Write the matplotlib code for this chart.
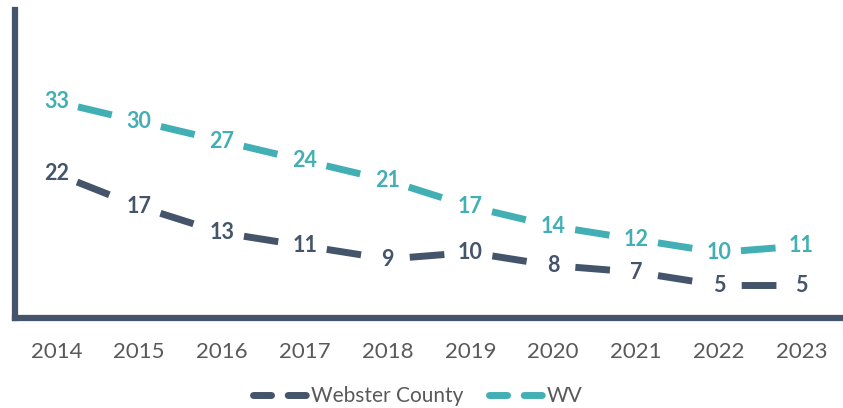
import matplotlib
matplotlib.use("Agg")
import matplotlib.pyplot as plt
from matplotlib.lines import Line2D

years = ["2014", "2015", "2016", "2017", "2018", "2019", "2020", "2021", "2022", "2023"]
webster = [22, 17, 13, 11, 9, 10, 8, 7, 5, 5]
wv = [33, 30, 27, 24, 21, 17, 14, 12, 10, 11]

dark = "#44546A"
teal = "#41AFB4"
plt.rcParams["font.family"] = ["Lato", "DejaVu Sans"]
plt.rcParams["lines.scale_dashes"] = False

fig = plt.figure(figsize=(8.43, 4.08), dpi=100)
ax = fig.add_axes([15 / 843, 1 - 318 / 408, 1 - 15 / 843, 308 / 408])

x = list(range(len(years)))
# each segment gets its own dash so the gap sits around the data label
seg_style = (81, (25, 72))
for series, color in [(webster, dark), (wv, teal)]:
    for i in range(len(x) - 1):
        ax.plot(x[i:i + 2], series[i:i + 2], color=color, lw=5,
                linestyle=seg_style, solid_capstyle="butt", dash_capstyle="butt")
    for xi, v in zip(x, series):
        ax.text(xi, v, str(v), ha="center", va="center", color=color,
                fontsize=15.5, fontweight="bold")

ax.set_xlim(-0.5, len(years) - 0.5)
ax.set_ylim(0, 47)
ax.set_xticks(x)
ax.set_xticklabels(years, fontsize=16, color="#595959")
ax.set_yticks([])
ax.tick_params(axis="x", length=0, pad=17)
for s in ["top", "right"]:
    ax.spines[s].set_visible(False)
for s in ["left", "bottom"]:
    ax.spines[s].set_color(dark)
    ax.spines[s].set_linewidth(4.5)

handles = [Line2D([], [], color=dark, lw=5, linestyle=(0, (13, 12)), dash_capstyle="round"),
           Line2D([], [], color=teal, lw=5, linestyle=(0, (13, 12)), dash_capstyle="round")]
fig.legend(handles, ["Webster County", "WV"], loc="center",
           bbox_to_anchor=(418 / 843, 1 - 396 / 408), ncol=2, frameon=False,
           fontsize=15, handlelength=2.6, handletextpad=0.2, columnspacing=1.2,
           labelcolor="#595959")

fig.savefig("out.png", dpi=100)
